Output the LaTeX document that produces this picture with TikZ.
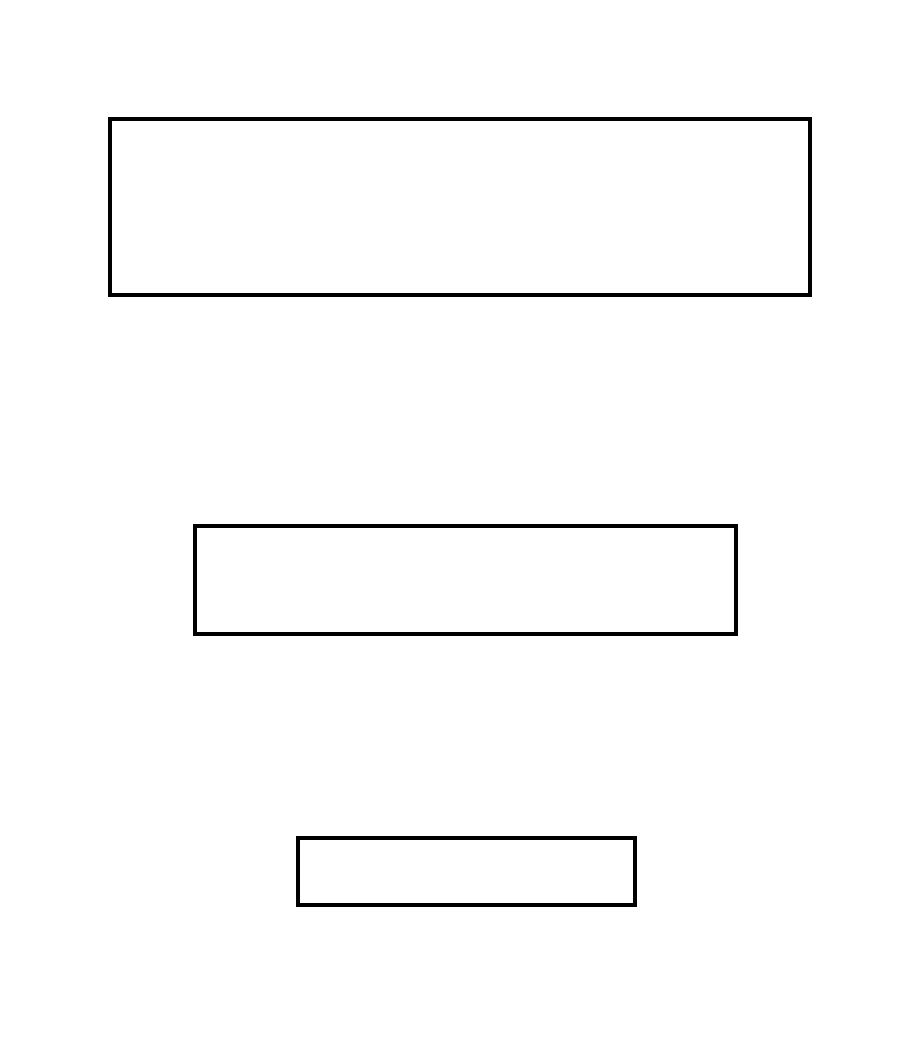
\documentclass[tikz,border=0pt]{standalone}
\usepackage{tikz}

\begin{document}
\begin{tikzpicture}[
  x=0.01cm, y=-0.01cm,
  bar/.style={
    draw=black,
    line width=1.15pt,
    rectangle,
    inner sep=0pt,
    outer sep=0pt
  }
]
\useasboundingbox (0,0) rectangle (900,1048);
\node[bar, minimum width=7cm, minimum height=1.76cm] (top) at (460,207) {};
\node[bar, minimum width=5.41cm, minimum height=1.08cm] (middle) at (465.5,580) {};
\node[bar, minimum width=3.37cm, minimum height=0.67cm] (bottom) at (466.5,871.5) {};
\end{tikzpicture}
\end{document}
